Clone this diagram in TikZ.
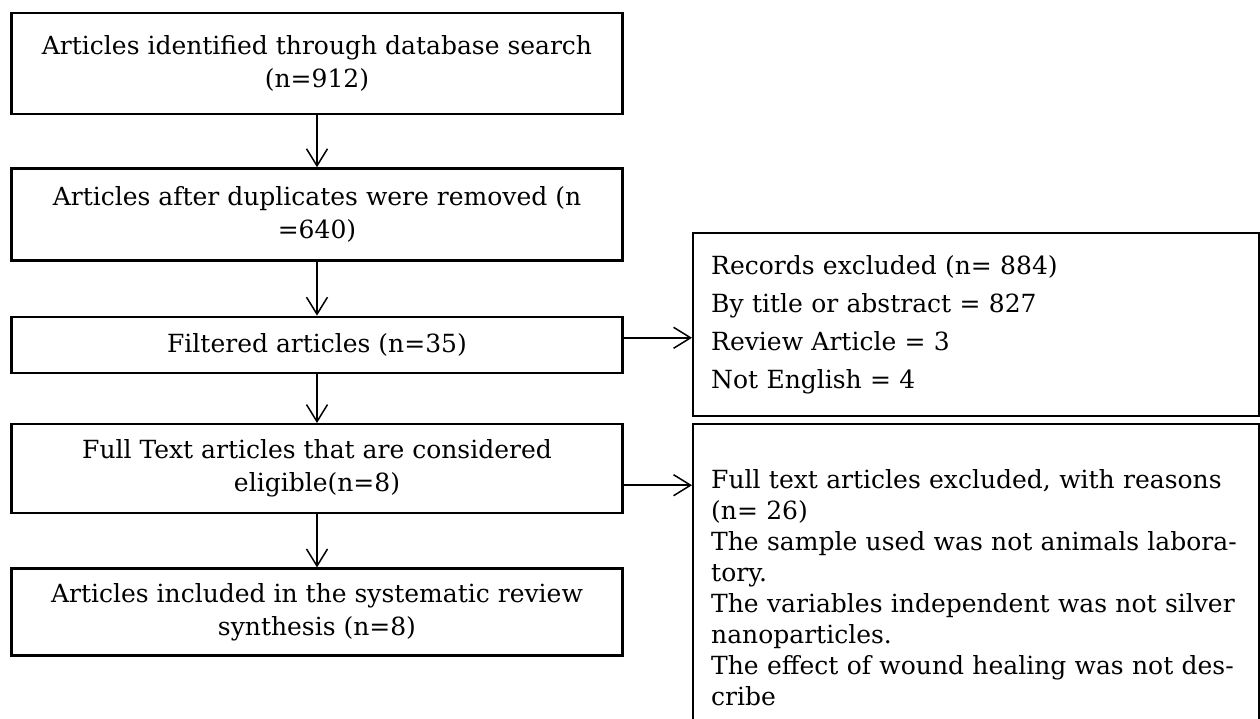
\documentclass[tikz,border=0pt]{standalone}
\usepackage{fontspec}
\setmainfont{DejaVu Serif}
\usetikzlibrary{positioning,arrows.meta}
\tikzset{>={Straight Barb[length=17pt,width=21pt]}}

\begin{document}
\begin{tikzpicture}[x=1pt, y=1pt, node distance=52pt,
  box/.style={draw, line width=2.4pt, inner sep=0pt, minimum width=611pt, align=center, font=\fontsize{25}{33}\selectfont},
  side/.style={draw, line width=2.4pt, anchor=north west, inner xsep=18pt, inner ysep=0pt, text width=530pt, align=left},
  link/.style={->, line width=1.5pt}]
\useasboundingbox (0,0) rectangle (1260,-718);
\node[box, minimum height=101pt] (found) at (317,-63.5) {Articles identified through database search\\(n=912)};
\node[box, minimum height=92pt, below=52pt of found] (dedup) {Articles after duplicates were removed (n\\=640)};
\node[box, minimum height=56pt, below=54pt of dedup] (filt) {Filtered articles (n=35)};
\node[box, minimum height=89pt, below=49pt of filt] (elig) {Full Text articles that are considered\\eligible(n=8)};
\node[box, minimum height=87pt, below=53pt of elig] (incl) {Articles included in the systematic review\\synthesis (n=8)};
\node[side, minimum height=183pt, font=\fontsize{25}{38}\selectfont] (recex) at (692,-232) {Records excluded (n= 884)\\By title or abstract = 827\\Review Article = 3\\Not English = 4};
\node[side, minimum height=326pt, font=\fontsize{25}{31}\selectfont] (fullex) at (692,-423) {Full text articles excluded, with reasons\\(n= 26)\\The sample used was not animals labora-\\tory.\\The variables independent was not silver\\nanoparticles.\\The effect of wound healing was not des-\\cribe};
\draw[link] (found) -- (dedup);
\draw[link] (dedup) -- (filt);
\draw[link] (filt) -- (elig);
\draw[link] (elig) -- (incl);
\draw[link] ([yshift=7pt]filt.east) -- ([yshift=7pt]filt.east -| recex.west);
\draw[link] ([yshift=-16.5pt]elig.east) -- ([yshift=-16.5pt]elig.east -| fullex.west);
\end{tikzpicture}
\end{document}
